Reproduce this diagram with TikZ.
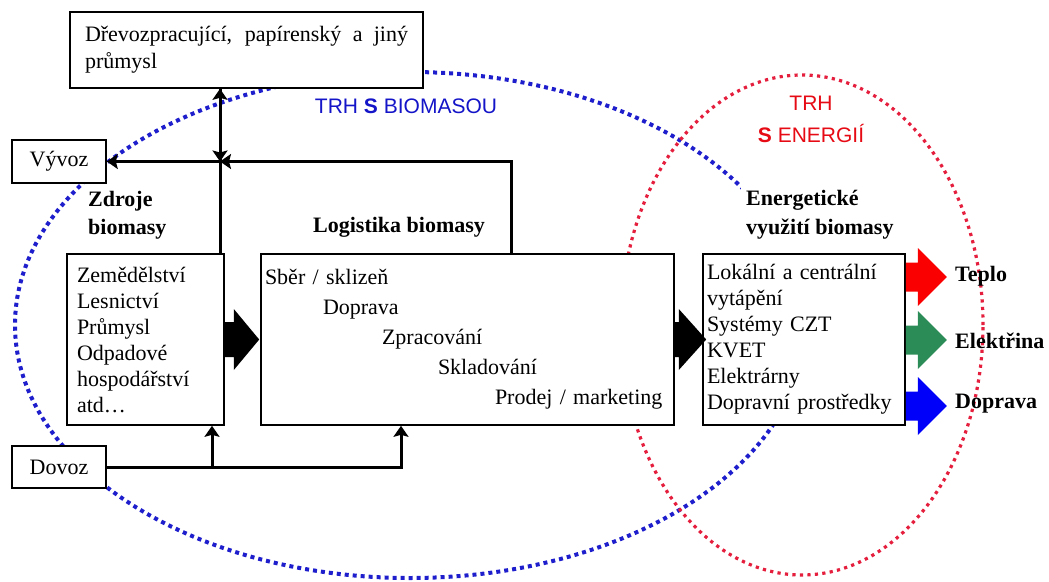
\documentclass[tikz,border=0pt]{standalone}
\usepackage{fontspec}
\setmainfont{Liberation Serif}
\setsansfont{Liberation Sans}
\usetikzlibrary{arrows.meta,calc}
\definecolor{bdot}{RGB}{30,30,205}
\definecolor{rdot}{RGB}{228,30,60}
\definecolor{tgreen}{RGB}{44,140,88}
\definecolor{tred}{RGB}{250,0,0}
\definecolor{tblue}{RGB}{0,0,250}
\definecolor{trhblue}{RGB}{20,20,200}
\definecolor{trhred}{RGB}{230,10,20}
\begin{document}
\begin{tikzpicture}[x=1pt,y=-1pt,
  every node/.style={inner sep=0pt, font=\fontsize{22}{26}\selectfont},
  box/.style={draw, line width=1.6pt, fill=white},
  lbl/.style={anchor=base west, font=\fontsize{22}{26}\selectfont\bfseries},
  trh/.style={anchor=base, font=\sffamily\fontsize{21}{26}\selectfont},
  conn/.style={line width=3pt, -{Stealth[length=11pt,width=15pt,inset=2pt]}},
  bigarrow/.style={fill=black},
  bluedots/.style={draw=bdot, line width=4pt, dash pattern=on 4pt off 4pt},
  reddots/.style={draw=rdot, line width=3.2pt, dash pattern=on 3.2pt off 4.3pt}]
\useasboundingbox (0,0) rectangle (1049,581);

% market ellipses
\draw[bluedots] (410,325) ellipse [x radius=395pt, y radius=253pt];
\draw[reddots] (802,325) ellipse [x radius=181pt, y radius=250pt];

% labels with white background (under the boxes)
\node[lbl, fill=white, inner xsep=5pt, inner ysep=16pt] (el2) at (741,234) {využití biomasy};
\node[lbl, fill=white, inner xsep=5pt, inner ysep=6pt] (el1) at (741,205) {Energetické};

% boxes
\node[box, minimum width=353pt, minimum height=76pt, align=left, font=\fontsize{22}{27}\selectfont] (ind) at (246.5,50)
  {\makebox[323pt][s]{Dřevozpracující, papírenský a jiný}\\průmysl};
\node[box, minimum width=94pt, minimum height=43pt] (vy) at (59,161.5) {Vývoz};
\node[box, minimum width=94pt, minimum height=42pt] (dv) at (59,467) {Dovoz};
\node[box, minimum width=157pt, minimum height=171pt, text width=137pt, align=left] (zd) at (145.5,339.5)
  {Zemědělství\\Lesnictví\\Průmysl\\Odpadové\\hospodářství\\atd…};
\node[box, minimum width=413pt, minimum height=171pt, text width=405pt, align=left, font=\fontsize{22}{30}\selectfont] (lg) at (467.5,339.5)
  {Sběr / sklizeň\\\hspace*{58pt}Doprava\\\hspace*{117pt}Zpracování\\\hspace*{173pt}Skladování\\\hspace*{230pt}Prodej / marketing};
\node[box, minimum width=202pt, minimum height=171pt, text width=194pt, align=left] (en) at (804,339.5)
  {Lokální a centrální\\vytápění\\Systémy CZT\\KVET\\Elektrárny\\Dopravní prostředky};

% labels
\node[lbl] (zl1) at (88,206) {Zdroje};
\node[lbl] (zl2) at (88,234) {biomasy};
\node[lbl] (ll) at (313,232) {Logistika biomasy};
\node[trh, text=trhblue] (tb) at (406,113) {TRH \textbf{S} BIOMASOU};
\node[trh, text=trhred] (te1) at (811,110) {TRH};
\node[trh, text=trhred] (te2) at (811,142) {\textbf{S} ENERGIÍ};

% connectors
\coordinate (zup) at ([xshift=74.5pt]zd.north);
\coordinate (J) at (zup |- vy.east);
\coordinate (lup) at ([xshift=43.5pt]lg.north);
\coordinate (zdn) at ([xshift=66.5pt]zd.south);
\coordinate (ldn) at ([xshift=-66.5pt]lg.south);
\draw[conn] (zup) -- (zup |- ind.south);
\draw[conn] (zup |- ind.south) -- (J);
\draw[conn] (lup) |- (J);
\draw[conn] (J) -- (vy.east);
\draw[conn] (dv.east) -| (ldn);
\draw[conn] (dv.east -| zdn) -- (zdn);

% big black arrows
\fill[bigarrow] ($(zd.east)+(0,-17.5)$) -- ($(zd.east)+(9,-17.5)$) -- ($(zd.east)+(9,-30.5)$) -- ([xshift=-1pt]lg.west)
  -- ($(zd.east)+(9,30.5)$) -- ($(zd.east)+(9,17.5)$) -- ($(zd.east)+(0,17.5)$) -- cycle;
\fill[bigarrow] ($(lg.east)+(0,-17.5)$) -- ($(lg.east)+(4,-17.5)$) -- ($(lg.east)+(4,-30.5)$) -- ([xshift=4pt]en.west)
  -- ($(lg.east)+(4,30.5)$) -- ($(lg.east)+(4,17.5)$) -- ($(lg.east)+(0,17.5)$) -- cycle;

% coloured output arrows
\foreach \c/\dy in {tred/-62.5, tgreen/0.5, tblue/66.5} {
  \fill[\c] ($(en.east)+(0,\dy-14.5)$) -- ($(en.east)+(12,\dy-14.5)$) -- ($(en.east)+(12,\dy-29)$) -- ($(en.east)+(41,\dy)$)
    -- ($(en.east)+(12,\dy+29)$) -- ($(en.east)+(12,\dy+14.5)$) -- ($(en.east)+(0,\dy+14.5)$) -- cycle;
}
\node[lbl] (tp) at (955,281) {Teplo};
\node[lbl] (ek) at (955,348) {Elektřina};
\node[lbl] (dp) at (955,408) {Doprava};
\end{tikzpicture}
\end{document}
